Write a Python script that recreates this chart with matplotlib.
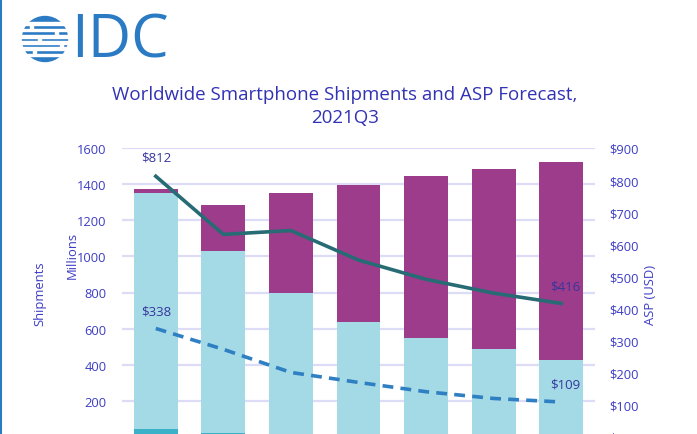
import matplotlib
matplotlib.use("Agg")
import matplotlib.pyplot as plt
import numpy as np
from matplotlib.patches import Circle, Rectangle

plt.rcParams['font.family'] = ['Open Sans', 'DejaVu Sans']

years = ['2019', '2020', '2021', '2022', '2023', '2024', '2025']
g3 = [45, 22, 10, 4, 2, 1, 1]
g4 = [1307, 1007, 786, 631, 545, 485, 424]
g5 = [19, 254, 554, 761, 897, 995, 1098]
asp_all = [812, 631, 643, 551, 491, 448, 416]
asp_4g = [338, 273, 201, 170, 141, 120, 109]

W, H = 697, 435
fig = plt.figure(figsize=(W / 100, H / 100), dpi=100)
fig.patch.set_facecolor('white')

def fx(px):
    return px / W

def fy(py):
    return 1 - py / H

ax = fig.add_axes([fx(122), fy(438), fx(595) - fx(122), fy(149) - fy(438)])
ax2 = ax.twinx()

x = np.arange(len(years))
bw = 0.65
c3, c4, c5 = '#3bb1c9', '#a3dae6', '#9c3c8b'
ax.bar(x, g3, bw, color=c3, zorder=3)
ax.bar(x, g4, bw, bottom=g3, color=c4, zorder=3)
b2 = np.array(g3) + np.array(g4)
ax.bar(x, g5, bw, bottom=b2, color=c5, zorder=3)

ax.set_xlim(-0.5, 6.5)
ax.set_ylim(0, 1600)
ax.set_yticks(range(0, 1601, 200))
ax.grid(axis='y', color='#dcdcf7', linewidth=1.6, zorder=0)
ax.set_axisbelow(True)
ax.set_xticks([])
for s in ax.spines.values():
    s.set_visible(False)
for s in ax2.spines.values():
    s.set_visible(False)

tick_col = '#3d3dc4'
ax.tick_params(axis='y', length=0, pad=11, labelcolor=tick_col, labelsize=9.3)

ax2.plot(x, asp_all, color='#276b74', linewidth=2.6, zorder=5)
ax2.plot(x, asp_4g, color='#2f7fc3', linewidth=2.6, linestyle=(0, (3, 2)), zorder=5)
ax2.set_ylim(0, 900)
ax2.set_yticks(range(0, 901, 100))
ax2.set_yticklabels(['$' + str(v) for v in range(0, 901, 100)])
ax2.tick_params(axis='y', length=0, pad=10, labelcolor=tick_col, labelsize=9.3)
ax2.set_xlim(-0.5, 6.5)

lab_col = '#37359c'
ax2.annotate('$%d' % asp_all[0], (x[0], asp_all[0]), xytext=(0, 9), textcoords='offset points',
             ha='center', va='bottom', color=lab_col, fontsize=9.5)
ax2.annotate('$%d' % asp_4g[0], (x[0], asp_4g[0]), xytext=(0, 8), textcoords='offset points',
             ha='center', va='bottom', color=lab_col, fontsize=9.5)
ax2.annotate('$%d' % asp_all[-1], (x[-1], asp_all[-1]), xytext=(3, 8), textcoords='offset points',
             ha='center', va='bottom', color=lab_col, fontsize=9.5)
ax2.annotate('$%d' % asp_4g[-1], (x[-1], asp_4g[-1]), xytext=(3, 8), textcoords='offset points',
             ha='center', va='bottom', color=lab_col, fontsize=9.5)

fig.text(fx(40), fy(294), 'Shipments', rotation=90, ha='center', va='center', color=tick_col, fontsize=9.4)
fig.text(fx(72), fy(255), 'Millions', rotation=90, ha='center', va='center', color=tick_col, fontsize=9.4)
fig.text(fx(651), fy(295), 'ASP (USD)', rotation=90, ha='center', va='center', color=tick_col, fontsize=9.4)

title_col = '#3232b4'
fig.text(fx(345), fy(95), 'Worldwide Smartphone Shipments and ASP Forecast,', ha='center', va='center',
         color=title_col, fontsize=13.5)
fig.text(fx(345), fy(118), '2021Q3', ha='center', va='center', color=title_col, fontsize=13.5)

# Logo
logo_col = '#2b7bc4'
lax = fig.add_axes([0, 0, 1, 1], zorder=-1)
lax.set_xlim(0, W)
lax.set_ylim(H, 0)
lax.axis('off')
circ = Circle((45, 40), 22.5, color=logo_col, zorder=1)
lax.add_patch(circ)
for yy in [24.5, 31, 37.5, 43.5, 49.5, 56]:
    lax.add_patch(Rectangle((15, yy - 1.1), 60, 2.2, color='white', zorder=2))
for (xx, yy) in [(30, 28), (55, 34), (38, 40.5), (60, 46.5), (33, 53)]:
    lax.add_patch(Rectangle((xx, yy - 2), 2.5, 4, color='white', zorder=2))
lax.text(71, 42, 'IDC', ha='left', va='center', color=logo_col, fontsize=43, fontweight='medium')
lax.plot([0.8, 0.8], [0, H], color='#2b7bc4', linewidth=1.5)

fig.savefig('out.png', dpi=100)
